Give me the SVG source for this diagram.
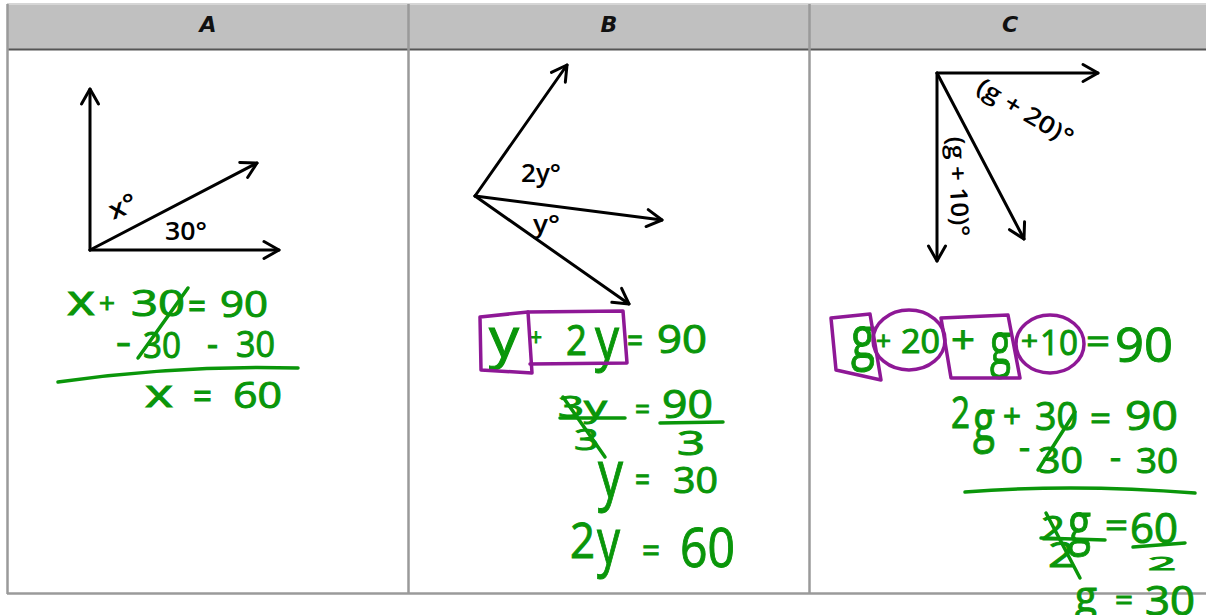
<svg xmlns="http://www.w3.org/2000/svg" width="1206" height="615" viewBox="0 0 1206 615">
<style>
.hd{font-family:"DejaVu Sans","Liberation Sans",sans-serif;font-weight:bold;font-style:italic;fill:#111;text-anchor:middle}
.lb{font-family:"Open Sans","DejaVu Sans",sans-serif;font-weight:600;fill:#000}
.gr{font-family:"Open Sans","DejaVu Sans",sans-serif;fill:#0a960a;stroke:#0a960a;stroke-width:1}
.gl{fill:none;stroke:#0a960a;stroke-width:3.5;stroke-linecap:round;stroke-linejoin:round}
.pu{fill:none;stroke:#8e1896;stroke-width:3.5;stroke-linecap:round;stroke-linejoin:round}
.ar{fill:none;stroke:#000;stroke-width:3;stroke-linecap:round}
.bd{fill:none;stroke:#9a9a9a;stroke-width:2.5}
</style>
<defs>
<marker id="ah" markerUnits="userSpaceOnUse" viewBox="-18 -11 21 22" markerWidth="21" markerHeight="22" refX="0" refY="0" orient="auto">
<path d="M-15,-8.5 L0,0 L-15,8.5" fill="none" stroke="#000" stroke-width="3" stroke-linecap="round" stroke-linejoin="round"/>
</marker>
</defs>
<rect width="1206" height="615" fill="#fff"/>
<g id="table">
<rect x="7" y="4" width="1199" height="45" fill="#c0c0c0"/>
<line x1="7" y1="4" x2="1206" y2="4" stroke="#d6d6d6" stroke-width="2"/>
<line x1="7" y1="49.5" x2="1206" y2="49.5" stroke="#555" stroke-width="2"/>
<line class="bd" x1="7.5" y1="4" x2="7.5" y2="594"/>
<line class="bd" x1="408.5" y1="4" x2="408.5" y2="594"/>
<line class="bd" x1="809.5" y1="4" x2="809.5" y2="594"/>
<line class="bd" x1="7" y1="593.5" x2="1206" y2="593.5"/>
<text class="hd" x="208" y="32" font-size="22">A</text>
<text class="hd" x="609" y="32" font-size="22">B</text>
<text class="hd" x="1010" y="32" font-size="22">C</text>
</g>
<g id="connectors">
<line class="ar" x1="90" y1="250" x2="90" y2="89" marker-end="url(#ah)"/>
<line class="ar" x1="90" y1="250" x2="279" y2="250" marker-end="url(#ah)"/>
<line class="ar" x1="90" y1="250" x2="257" y2="163" marker-end="url(#ah)"/>
<line class="ar" x1="475" y1="196" x2="567" y2="65" marker-end="url(#ah)"/>
<line class="ar" x1="475" y1="196" x2="662" y2="220" marker-end="url(#ah)"/>
<line class="ar" x1="475" y1="196" x2="629" y2="304" marker-end="url(#ah)"/>
<line class="ar" x1="937" y1="73" x2="1098" y2="73" marker-end="url(#ah)"/>
<line class="ar" x1="937" y1="73" x2="937" y2="261" marker-end="url(#ah)"/>
<line class="ar" x1="937" y1="73" x2="1024" y2="239" marker-end="url(#ah)"/>
</g>
<g id="colA" font-size="36">
<text class="lb" font-size="26" transform="translate(113,220) rotate(-22)" textLength="28" lengthAdjust="spacingAndGlyphs">x°</text>
<text class="lb" x="165" y="240" font-size="26" textLength="42" lengthAdjust="spacingAndGlyphs">30°</text>
<text class="gr" x="67" y="315" font-size="42" textLength="28" lengthAdjust="spacingAndGlyphs">x</text>
<text class="gr" x="99" y="313" font-size="28" textLength="16" lengthAdjust="spacingAndGlyphs">+</text>
<text class="gr" x="131" y="316" textLength="54" lengthAdjust="spacingAndGlyphs">30</text>
<text class="gr" x="188" y="319" textLength="18" lengthAdjust="spacingAndGlyphs">=</text>
<text class="gr" x="220" y="317" textLength="48" lengthAdjust="spacingAndGlyphs">90</text>
<text class="gr" x="116" y="355" textLength="15" lengthAdjust="spacingAndGlyphs">-</text>
<text class="gr" x="143" y="358" textLength="38" lengthAdjust="spacingAndGlyphs">30</text>
<text class="gr" x="207" y="357" textLength="11" lengthAdjust="spacingAndGlyphs">-</text>
<text class="gr" x="236" y="357" textLength="39" lengthAdjust="spacingAndGlyphs">30</text>
<path class="gl" d="M188,288 L138,358"/>
<path class="gl" d="M58,382 C120,373 200,365 298,368"/>
<text class="gr" x="145" y="407" font-size="38" textLength="28" lengthAdjust="spacingAndGlyphs">x</text>
<text class="gr" x="193" y="409" textLength="19" lengthAdjust="spacingAndGlyphs">=</text>
<text class="gr" x="233" y="408" textLength="49" lengthAdjust="spacingAndGlyphs">60</text>
</g>
<g id="colB" font-size="36">
<text class="lb" x="521" y="182" font-size="26" textLength="40" lengthAdjust="spacingAndGlyphs">2y°</text>
<text class="lb" x="533" y="233" font-size="26" textLength="27" lengthAdjust="spacingAndGlyphs">y°</text>
<text class="gr" x="489" y="357" font-size="54" textLength="30" lengthAdjust="spacingAndGlyphs">y</text>
<text class="gr" x="530" y="346" font-size="24" textLength="12" lengthAdjust="spacingAndGlyphs">+</text>
<text class="gr" x="566" y="355" font-size="42" textLength="21" lengthAdjust="spacingAndGlyphs">2</text>
<text class="gr" x="595" y="359" font-size="58" textLength="24" lengthAdjust="spacingAndGlyphs">y</text>
<text class="gr" x="627" y="353" font-size="34" textLength="16" lengthAdjust="spacingAndGlyphs">=</text>
<text class="gr" x="657" y="353" font-size="39" textLength="50" lengthAdjust="spacingAndGlyphs">90</text>
<path class="pu" d="M480,317 L528,312 L532,373 L481,370 Z"/>
<path class="pu" d="M528,312 L623,311 L627,363 L530,364"/>
<text class="gr" x="558" y="417" font-size="30" textLength="49" lengthAdjust="spacingAndGlyphs">3y</text>
<path class="gl" d="M560,418 L625,418"/>
<text class="gr" x="574" y="450" font-size="30" textLength="25" lengthAdjust="spacingAndGlyphs">3</text>
<path class="gl" d="M563,397 L605,457"/>
<text class="gr" x="635" y="419" font-size="30" textLength="15" lengthAdjust="spacingAndGlyphs">=</text>
<text class="gr" x="662" y="418" font-size="39" textLength="51" lengthAdjust="spacingAndGlyphs">90</text>
<path class="gl" d="M660,423 L723,422"/>
<text class="gr" x="677" y="455" font-size="32" textLength="28" lengthAdjust="spacingAndGlyphs">3</text>
<text class="gr" x="598" y="497" font-size="66" textLength="25" lengthAdjust="spacingAndGlyphs">y</text>
<text class="gr" x="635" y="492" font-size="34" textLength="15" lengthAdjust="spacingAndGlyphs">=</text>
<text class="gr" x="673" y="493" font-size="36" textLength="45" lengthAdjust="spacingAndGlyphs">30</text>
<text class="gr" x="570" y="558" font-size="50" textLength="25" lengthAdjust="spacingAndGlyphs">2</text>
<text class="gr" x="597" y="564" font-size="64" textLength="23" lengthAdjust="spacingAndGlyphs">y</text>
<text class="gr" x="642" y="563" font-size="34" textLength="18" lengthAdjust="spacingAndGlyphs">=</text>
<text class="gr" x="680" y="567" font-size="54" textLength="55" lengthAdjust="spacingAndGlyphs">60</text>
</g>
<g id="colC" font-size="36">
<text class="lb" font-size="24" text-anchor="middle" transform="translate(1021,119) rotate(31)" textLength="108" lengthAdjust="spacingAndGlyphs">(g + 20)°</text>
<text class="lb" font-size="24" text-anchor="middle" transform="translate(950,187) rotate(87)" textLength="100" lengthAdjust="spacingAndGlyphs">(g + 10)°</text>
<text class="gr" x="851" y="358" font-size="58" textLength="24" lengthAdjust="spacingAndGlyphs">g</text>
<text class="gr" x="876" y="350" font-size="26" textLength="15" lengthAdjust="spacingAndGlyphs">+</text>
<text class="gr" x="901" y="353" font-size="32" textLength="39" lengthAdjust="spacingAndGlyphs">20</text>
<text class="gr" x="951" y="353" font-size="38" textLength="24" lengthAdjust="spacingAndGlyphs">+</text>
<text class="gr" x="990" y="365" font-size="60" textLength="21" lengthAdjust="spacingAndGlyphs">g</text>
<text class="gr" x="1021" y="350" font-size="26" textLength="17" lengthAdjust="spacingAndGlyphs">+</text>
<text class="gr" x="1040" y="355" font-size="34" textLength="38" lengthAdjust="spacingAndGlyphs">10</text>
<text class="gr" x="1086" y="354" font-size="34" textLength="24" lengthAdjust="spacingAndGlyphs">=</text>
<text class="gr" x="1115" y="362" font-size="48" textLength="58" lengthAdjust="spacingAndGlyphs">90</text>
<path class="pu" d="M831,318 L870,314 L881,380 L836,370 Z"/>
<ellipse class="pu" cx="909" cy="340" rx="36" ry="30"/>
<path class="pu" d="M941,318 L1008,315 L1020,378 L951,378 Z"/>
<ellipse class="pu" cx="1050" cy="344" rx="34" ry="29"/>
<text class="gr" x="951" y="428" font-size="43" textLength="19" lengthAdjust="spacingAndGlyphs">2</text>
<text class="gr" x="973" y="440" font-size="56" textLength="22" lengthAdjust="spacingAndGlyphs">g</text>
<text class="gr" x="1003" y="428" font-size="32" textLength="18" lengthAdjust="spacingAndGlyphs">+</text>
<text class="gr" x="1035" y="430" font-size="38" textLength="43" lengthAdjust="spacingAndGlyphs">30</text>
<text class="gr" x="1090" y="431" font-size="34" textLength="21" lengthAdjust="spacingAndGlyphs">=</text>
<text class="gr" x="1125" y="430" font-size="40" textLength="53" lengthAdjust="spacingAndGlyphs">90</text>
<path class="gl" d="M1075,412 L1038,470"/>
<text class="gr" x="1019" y="459" font-size="32" textLength="11" lengthAdjust="spacingAndGlyphs">-</text>
<text class="gr" x="1038" y="473" font-size="36" textLength="45" lengthAdjust="spacingAndGlyphs">30</text>
<text class="gr" x="1110" y="469" font-size="32" textLength="11" lengthAdjust="spacingAndGlyphs">-</text>
<text class="gr" x="1136" y="473" font-size="34" textLength="42" lengthAdjust="spacingAndGlyphs">30</text>
<path class="gl" d="M965,492 C1040,486 1120,487 1195,493"/>
<text class="gr" x="1041" y="540" font-size="32" textLength="24" lengthAdjust="spacingAndGlyphs">2</text>
<text class="gr" x="1068" y="543" font-size="57" textLength="23" lengthAdjust="spacingAndGlyphs">g</text>
<path class="gl" d="M1041,538 L1105,540"/>
<text class="gr" x="1048" y="567" font-size="34" textLength="27" lengthAdjust="spacingAndGlyphs">2</text>
<path class="gl" d="M1046,513 L1080,578"/>
<text class="gr" x="1105" y="538" font-size="34" textLength="23" lengthAdjust="spacingAndGlyphs">=</text>
<text class="gr" x="1130" y="543" font-size="42" textLength="48" lengthAdjust="spacingAndGlyphs">60</text>
<path class="gl" d="M1133,547 L1185,543"/>
<text class="gr" x="1148" y="570" font-size="18" textLength="28" lengthAdjust="spacingAndGlyphs">2</text>
<text class="gr" x="1075" y="611" font-size="42" textLength="22" lengthAdjust="spacingAndGlyphs">g</text>
<text class="gr" x="1115" y="610" font-size="30" textLength="18" lengthAdjust="spacingAndGlyphs">=</text>
<text class="gr" x="1145" y="615" font-size="40" textLength="50" lengthAdjust="spacingAndGlyphs">30</text>
</g>
</svg>
